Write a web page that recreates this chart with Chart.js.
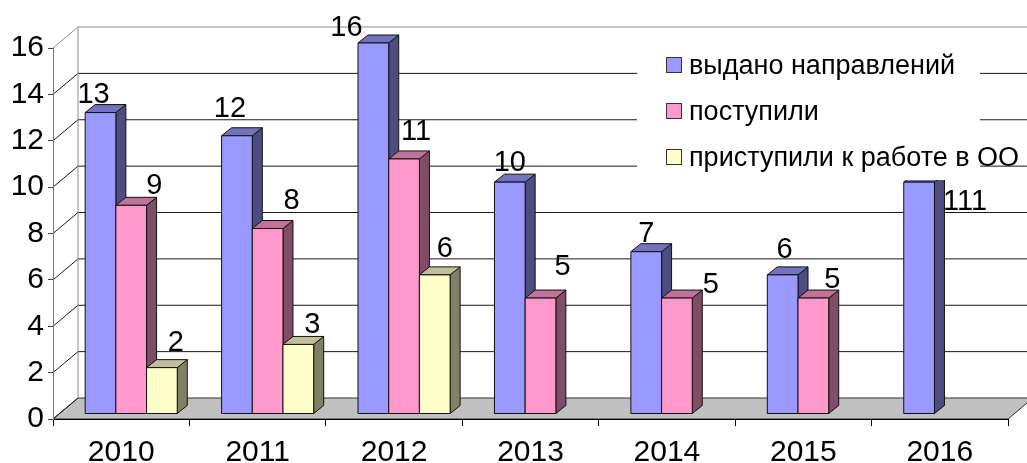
<!DOCTYPE html>
<html>
<head>
<meta charset="utf-8">
<script src="https://cdn.jsdelivr.net/npm/chart.js@4/dist/chart.umd.min.js"></script>
<style>
  html, body { margin: 0; padding: 0; background: #fff; }
</style>
</head>
<body>
<canvas id="chart" width="1027" height="463"></canvas>
<script>
// ── data ──────────────────────────────────
const YEARS    = ['2010', '2011', '2012', '2013', '2014', '2015', '2016'];
const ISSUED   = [13, 12, 16, 10, 7, 6, 10];           // выдано направлений
const ENROLLED = [9, 8, 11, 5, 5, 5, null];            // поступили
const STARTED  = [2, 3, 6, null, null, null, null];    // приступили к работе в ОО
const SERIES_NAMES = ['выдано направлений', 'поступили', 'приступили к работе в ОО'];
const LABEL_TEXT = [
  ['13', '12', '16', '10', '7', '6', '111'],
  ['9', '8', '11', '5', '5', '5', ''],
  ['2', '3', '6', '', '', '', '']
];
const Y_MIN = 0, Y_MAX = 16, Y_STEP = 2;

// ── look ──────────────────────────────────
const FONT = '"Liberation Sans", Arial, sans-serif';
const WALL_DEPTH = { x: 25, y: -21 };   // front axis plane -> back wall
const BAR_SHIFT  = { x: 10, y: -5 };    // front axis plane -> bar fronts
const BAR_DEPTH  = { x: 10, y: -8 };    // bar front -> bar back
const FACES = [
  { front: '#9999FF', side: '#4D4D80', top: '#7373BF' },
  { front: '#FF99CC', side: '#804D66', top: '#BF7399' },
  { front: '#FFFFCC', side: '#808066', top: '#BFBF99' }
];
// hand-placed data labels in the original: [dx from bar centre, rise above bar top]
const LABEL_NUDGE = [
  [[-7, 10], [-7, 19], [-27, 7], [0, 11], [0, 10], [2, 17], [46, -28]],
  [[23, 11], [24, 20], [12, 19], [22, 23], [34, 5], [19, 10], [0, 0]],
  [[14, 17], [14, 11], [10, 18], [0, 0], [0, 0], [0, 0], [0, 0]]
];

function poly(ctx, pts, fill, stroke) {
  ctx.beginPath();
  ctx.moveTo(pts[0][0], pts[0][1]);
  for (let i = 1; i < pts.length; i++) ctx.lineTo(pts[i][0], pts[i][1]);
  ctx.closePath();
  if (fill) { ctx.fillStyle = fill; ctx.fill(); }
  if (stroke) { ctx.strokeStyle = stroke; ctx.lineWidth = 1; ctx.stroke(); }
}

// walls + floor, drawn before the axes
const walls = {
  id: 'walls',
  beforeDraw(chart) {
    const { ctx, scales: { x, y } } = chart;
    const dx = WALL_DEPTH.x, dy = WALL_DEPTH.y;
    const L = x.left, R = x.right, y0 = y.getPixelForValue(Y_MIN), yTop = y.getPixelForValue(Y_MAX);
    ctx.save();
    // floor
    poly(ctx, [[L, y0], [L + dx, y0 + dy], [R + dx, y0 + dy], [R, y0]], '#C0C0C0', '#333');
    // back wall grid lines + left wall diagonals
    for (let v = Y_MIN; v <= Y_MAX; v += Y_STEP) {
      const py = y.getPixelForValue(v);
      const isTop = v === Y_MAX;
      ctx.strokeStyle = isTop ? '#8C8C8C' : '#1A1A1A';
      ctx.lineWidth = 1;
      ctx.beginPath();
      ctx.moveTo(L, py); ctx.lineTo(L + dx, py + dy);
      if (v !== Y_MIN) ctx.lineTo(chart.width + 40, py + dy);
      ctx.stroke();
    }
    ctx.strokeStyle = '#8C8C8C';
    ctx.beginPath();
    ctx.moveTo(L + dx, yTop + dy); ctx.lineTo(L + dx, y0 + dy);
    ctx.stroke();
    ctx.restore();
  }
};

// 3-D columns, labels and legend
const columns = {
  id: 'columns',
  afterDatasetsDraw(chart) {
    const { ctx } = chart;
    ctx.save();
    chart.data.datasets.forEach((ds, di) => {
      const meta = chart.getDatasetMeta(di);
      const f = FACES[di];
      meta.data.forEach((bar, i) => {
        if (ds.data[i] == null) return;
        const p = bar.getProps(['x', 'y', 'base', 'width'], true);
        const l = p.x - p.width / 2 + BAR_SHIFT.x, r = p.x + p.width / 2 + BAR_SHIFT.x;
        const t = p.y + BAR_SHIFT.y, b = p.base + BAR_SHIFT.y;
        const ddx = BAR_DEPTH.x, ddy = BAR_DEPTH.y;
        poly(ctx, [[r, b], [r + ddx, b + ddy], [r + ddx, t + ddy], [r, t]], f.side, '#111');
        poly(ctx, [[l, t], [l + ddx, t + ddy], [r + ddx, t + ddy], [r, t]], f.top, '#111');
        poly(ctx, [[l, t], [r, t], [r, b], [l, b]], f.front, '#111');
      });
    });

    ctx.fillStyle = '#000';
    ctx.font = '29px ' + FONT;
    ctx.textAlign = 'center';
    ctx.textBaseline = 'alphabetic';
    chart.data.datasets.forEach((ds, di) => {
      const meta = chart.getDatasetMeta(di);
      meta.data.forEach((bar, i) => {
        const txt = LABEL_TEXT[di][i];
        if (!txt || ds.data[i] == null) return;
        const p = bar.getProps(['x', 'y'], true);
        const [nx, rise] = LABEL_NUDGE[di][i];
        ctx.fillText(txt, p.x + BAR_SHIFT.x + nx, p.y + BAR_SHIFT.y - rise);
      });
    });

    // legend box
    ctx.fillStyle = '#fff';
    ctx.fillRect(637, 36, 343, 144);
    ctx.font = '27px ' + FONT;
    ctx.textAlign = 'left';
    ctx.textBaseline = 'middle';
    SERIES_NAMES.forEach((name, i) => {
      const cy = 65 + i * 46;
      ctx.fillStyle = FACES[i].front;
      ctx.fillRect(666.5, cy - 7.5, 15, 15);
      ctx.strokeStyle = '#333';
      ctx.lineWidth = 1;
      ctx.strokeRect(666.5, cy - 7.5, 15, 15);
      ctx.fillStyle = '#000';
      ctx.fillText(name, 689, cy + 2);
    });
    ctx.restore();
  }
};

const ctx = document.getElementById('chart').getContext('2d');
new Chart(ctx, {
  type: 'bar',
  data: {
    labels: YEARS,
    datasets: [ISSUED, ENROLLED, STARTED].map((d, i) => ({
      label: SERIES_NAMES[i],
      data: d,
      backgroundColor: 'rgba(0,0,0,0)',
      borderWidth: 0,
      categoryPercentage: 0.675,
      barPercentage: 1
    }))
  },
  options: {
    responsive: false,
    animation: false,
    devicePixelRatio: 1,
    layout: { padding: { top: 48, right: 19, left: 0, bottom: 0 } },
    plugins: { legend: { display: false }, tooltip: { enabled: false } },
    scales: {
      x: {
        grid: { offset: true, drawOnChartArea: false, drawTicks: true, tickLength: 7, color: '#000' },
        border: { color: '#000' },
        ticks: { color: '#000', font: { size: 30, family: FONT }, padding: 9, maxRotation: 0 },
        afterFit: s => { s.height = 44; }
      },
      y: {
        min: Y_MIN, max: Y_MAX,
        grid: { drawOnChartArea: false, drawTicks: true, tickLength: 5, color: '#444' },
        border: { color: '#777' },
        ticks: { stepSize: Y_STEP, color: '#000', font: { size: 30, family: FONT }, padding: 4 },
        afterFit: s => { s.width = 53; }
      }
    }
  },
  plugins: [walls, columns]
});
</script>
</body>
</html>
